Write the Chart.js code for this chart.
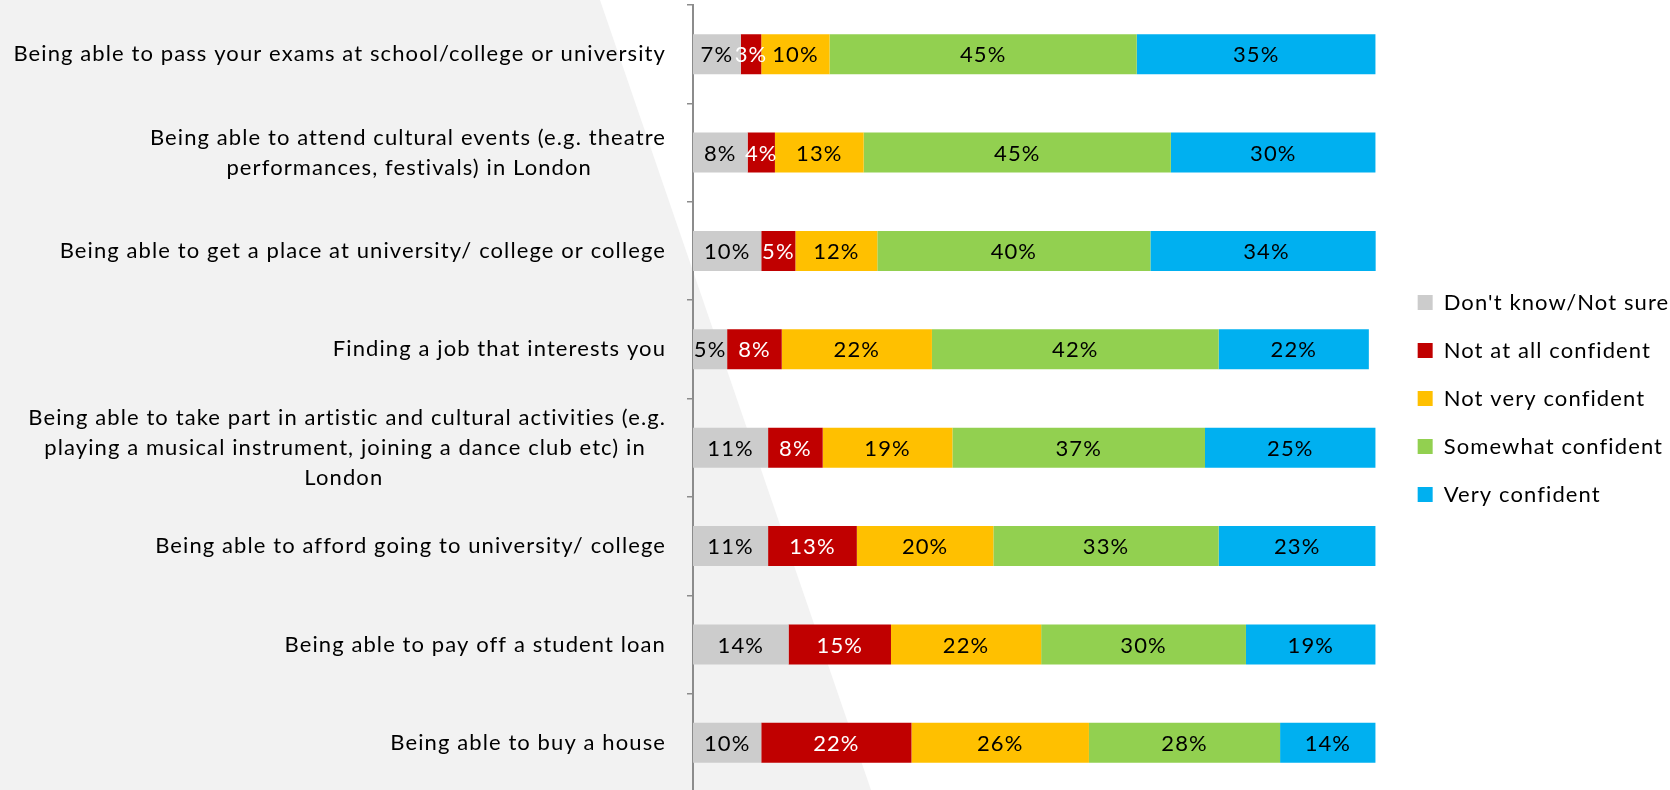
<!DOCTYPE html>
<html>
<head>
<meta charset="utf-8">
<script src="https://cdn.jsdelivr.net/npm/chart.js@4.4.1/dist/chart.umd.min.js"></script>
<style>
  html, body { margin: 0; padding: 0; overflow: hidden; background: #ffffff; width: 1670px; height: 790px; }
  #wrap { position: absolute; left: 0; top: 0; }
</style>
</head>
<body>
<div id="wrap"><canvas id="c"></canvas></div>
<script>
const categories = [
  'Being able to pass your exams at school/college or university',
  ['Being able to attend cultural events (e.g. theatre', 'performances, festivals) in London'],
  'Being able to get a place at university/ college or college',
  'Finding a job that interests you',
  ['Being able to take part in artistic and cultural activities (e.g.', 'playing a musical instrument, joining a dance club etc) in', 'London'],
  'Being able to afford going to university/ college',
  'Being able to pay off a student loan',
  'Being able to buy a house'
];
const seriesNames = ["Don't know/Not sure", 'Not at all confident', 'Not very confident', 'Somewhat confident', 'Very confident'];
const dontKnow = [7, 8, 10, 5, 11, 11, 14, 10];
const notAtAll = [3, 4, 5, 8, 8, 13, 15, 22];
const notVery  = [10, 13, 12, 22, 19, 20, 22, 26];
const somewhat = [45, 45, 40, 42, 37, 33, 30, 28];
const very     = [35, 30, 34, 22, 25, 23, 19, 14];
const seriesColors = ['#cccccc', '#c00000', '#ffc000', '#92d050', '#00b0f0'];
const labelColors = ['#000000', '#ffffff', '#000000', '#000000', '#000000'];

const FONT_FAMILY = 'Lato, "Open Sans", "Liberation Sans", sans-serif';
const FONT_SIZE = 22;
const LETTER_SP = '1.1px';
const fontStr = FONT_SIZE + 'px ' + FONT_FAMILY;

// layout targets
const AXIS_X = 693;      // left edge of plot area
const PLOT_RIGHT = 1366; // right edge of plot area
const LEG_BOX_X = 1408;  // legend swatch left
const LEG_PAD = 26;
const LEG_BOX = 15;

const mctx = document.createElement('canvas').getContext('2d');
mctx.font = fontStr;
mctx.letterSpacing = LETTER_SP;
const legTextW = Math.max(...seriesNames.map(s => mctx.measureText(s).width));
const colW = LEG_BOX + FONT_SIZE / 2 + legTextW;
const canvasW = Math.ceil(LEG_BOX_X + colW + 10);
const canvasH = 800;

const cv = document.getElementById('c');
cv.width = canvasW; cv.height = canvasH;
cv.style.width = canvasW + 'px'; cv.style.height = canvasH + 'px';

const spacingPlugin = {
  id: 'spacing',
  beforeUpdate(chart) { chart.ctx.letterSpacing = LETTER_SP; },
  beforeLayout(chart) { chart.ctx.letterSpacing = LETTER_SP; },
  beforeDraw(chart) { chart.ctx.letterSpacing = LETTER_SP; }
};

const bgPlugin = {
  id: 'bg',
  beforeDraw(chart) {
    const ctx = chart.ctx;
    ctx.save();
    ctx.fillStyle = '#ffffff';
    ctx.fillRect(0, 0, chart.width, chart.height);
    ctx.fillStyle = '#f2f2f2';
    ctx.beginPath();
    ctx.moveTo(0, 0);
    ctx.lineTo(600, 0);
    ctx.lineTo(871, 790);
    ctx.lineTo(874, 800);
    ctx.lineTo(0, 800);
    ctx.closePath();
    ctx.fill();
    ctx.restore();
  }
};

const valueLabels = {
  id: 'valueLabels',
  afterDatasetsDraw(chart) {
    const ctx = chart.ctx;
    ctx.save();
    ctx.font = fontStr;
    ctx.letterSpacing = LETTER_SP;
    ctx.textAlign = 'center';
    ctx.textBaseline = 'middle';
    chart.data.datasets.forEach((ds, di) => {
      const meta = chart.getDatasetMeta(di);
      meta.data.forEach((bar, i) => {
        const v = ds.data[i];
        const cx = (bar.x + bar.base) / 2;
        ctx.fillStyle = labelColors[di];
        ctx.fillText(v + '%', cx, bar.y + 1);
      });
    });
    ctx.restore();
  }
};

const allSeries = [dontKnow, notAtAll, notVery, somewhat, very];

new Chart(cv, {
  type: 'bar',
  data: {
    labels: categories,
    datasets: allSeries.map((arr, i) => ({
      label: seriesNames[i],
      data: arr,
      backgroundColor: seriesColors[i],
      borderWidth: 0,
      barPercentage: 0.407,
      categoryPercentage: 1.0
    }))
  },
  options: {
    indexAxis: 'y',
    responsive: false,
    animation: false,
    devicePixelRatio: 1,
    layout: { padding: { left: 0, right: 0, top: 5, bottom: 8 } },
    scales: {
      x: {
        stacked: true,
        min: 0, max: 100,
        display: false
      },
      y: {
        stacked: true,
        position: 'left',
        afterFit(s) { s.width = AXIS_X; s.paddingTop = 0; s.paddingBottom = 0; },
        grid: { display: true, drawOnChartArea: false, drawTicks: true, tickLength: 6, color: '#8c8c8c', lineWidth: 1.5, offset: true },
        border: { display: true, color: '#8c8c8c', width: 2 },
        ticks: {
          color: '#000000',
          padding: 21,
          font: { family: FONT_FAMILY, size: FONT_SIZE, lineHeight: 1.36 },
          callback: function(value) {
            const lbl = this.getLabelForValue(value);
            if (!Array.isArray(lbl)) return lbl;
            const widths = lbl.map(l => mctx.measureText(l).width);
            const maxW = Math.max(...widths);
            const sp = mctx.measureText(' ').width;
            return lbl.map((l, k) => l + ' '.repeat(Math.round((maxW - widths[k]) / 2 / sp)));
          }
        }
      },
      gap: {
        type: 'linear',
        axis: 'y',
        position: 'right',
        display: true,
        afterFit(s) { s.width = LEG_BOX_X - LEG_PAD - PLOT_RIGHT; s.paddingTop = 0; s.paddingBottom = 0; },
        grid: { display: false, drawTicks: false },
        border: { display: false },
        ticks: { display: false }
      }
    },
    plugins: {
      legend: {
        position: 'right',
        align: 'center',
        labels: {
          boxWidth: LEG_BOX,
          boxHeight: LEG_BOX,
          padding: LEG_PAD,
          color: '#000000',
          font: { family: FONT_FAMILY, size: FONT_SIZE }
        }
      },
      tooltip: { enabled: false }
    }
  },
  plugins: [spacingPlugin, bgPlugin, valueLabels]
});
</script>
</body>
</html>
